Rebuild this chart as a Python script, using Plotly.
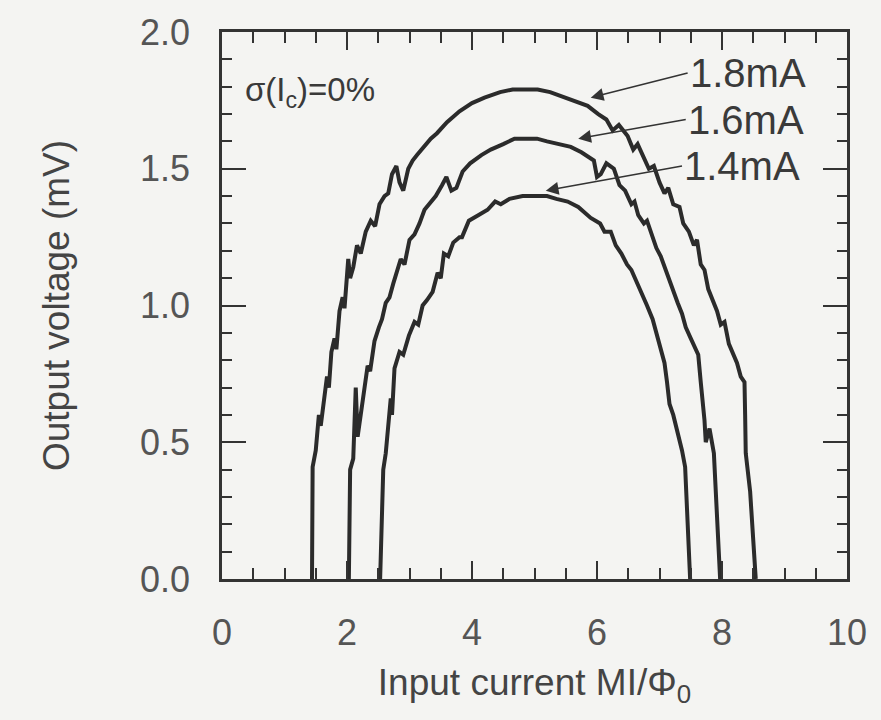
import plotly.graph_objects as go

# ---- data ----
x_18 = [1.44, 1.45, 1.50, 1.55, 1.58, 1.64, 1.68, 1.71, 1.75, 1.80, 1.83, 1.88, 1.93, 1.96, 2.02, 2.05,
        2.10, 2.16, 2.22, 2.30, 2.38, 2.45, 2.52, 2.60, 2.66, 2.72, 2.79, 2.84, 2.90, 2.98, 3.05, 3.12,
        3.22, 3.34, 3.44, 3.60, 3.80, 4.00, 4.20, 4.45, 4.65, 4.85, 5.05, 5.25, 5.49, 5.70, 5.85, 6.02,
        6.15, 6.25, 6.35, 6.49, 6.58, 6.65, 6.75, 6.83, 6.91, 7.00, 7.08, 7.14, 7.22, 7.32, 7.38, 7.47,
        7.55, 7.60, 7.66, 7.72, 7.78, 7.85, 7.92, 7.98, 8.04, 8.11, 8.18, 8.24, 8.30, 8.36, 8.37, 8.38,
        8.45, 8.50, 8.53, 8.54]
y_18 = [0.00, 0.41, 0.47, 0.60, 0.56, 0.66, 0.74, 0.70, 0.83, 0.88, 0.84, 0.98, 1.03, 0.99, 1.17, 1.10,
        1.14, 1.22, 1.19, 1.27, 1.31, 1.29, 1.37, 1.40, 1.41, 1.48, 1.51, 1.45, 1.42, 1.50, 1.53, 1.55,
        1.58, 1.61, 1.63, 1.67, 1.71, 1.74, 1.76, 1.78, 1.79, 1.79, 1.79, 1.78, 1.76, 1.74, 1.73, 1.70,
        1.68, 1.64, 1.66, 1.62, 1.57, 1.59, 1.54, 1.50, 1.51, 1.45, 1.41, 1.43, 1.37, 1.36, 1.30, 1.27,
        1.22, 1.24, 1.15, 1.13, 1.06, 1.02, 0.98, 0.93, 0.94, 0.86, 0.82, 0.79, 0.74, 0.72, 0.60, 0.46,
        0.32, 0.15, 0.03, 0.00]

x_16 = [2.03, 2.05, 2.10, 2.14, 2.17, 2.22, 2.28, 2.33, 2.37, 2.44, 2.51, 2.56, 2.62, 2.68, 2.74, 2.80,
        2.86, 2.92, 3.00, 3.08, 3.16, 3.24, 3.32, 3.42, 3.52, 3.59, 3.67, 3.75, 3.85, 3.97, 4.15, 4.30,
        4.50, 4.68, 4.85, 5.04, 5.20, 5.40, 5.58, 5.75, 5.95, 6.00, 6.06, 6.15, 6.27, 6.36, 6.45, 6.55,
        6.60, 6.66, 6.75, 6.80, 6.87, 6.95, 7.02, 7.08, 7.14, 7.20, 7.29, 7.36, 7.42, 7.50, 7.56, 7.62,
        7.66, 7.70, 7.72, 7.74, 7.80, 7.87, 7.92, 7.96, 7.97]
y_16 = [0.00, 0.40, 0.44, 0.70, 0.52, 0.60, 0.72, 0.78, 0.76, 0.87, 0.92, 0.95, 1.01, 1.03, 1.08, 1.13,
        1.17, 1.15, 1.24, 1.26, 1.30, 1.35, 1.37, 1.40, 1.44, 1.47, 1.42, 1.43, 1.49, 1.52, 1.55, 1.57,
        1.59, 1.61, 1.61, 1.61, 1.60, 1.59, 1.58, 1.56, 1.53, 1.47, 1.48, 1.52, 1.50, 1.44, 1.42, 1.37,
        1.38, 1.33, 1.30, 1.31, 1.26, 1.21, 1.18, 1.14, 1.11, 1.06, 1.01, 0.97, 0.92, 0.88, 0.85, 0.82,
        0.72, 0.64, 0.58, 0.50, 0.55, 0.46, 0.25, 0.03, 0.00]

x_14 = [2.53, 2.58, 2.62, 2.64, 2.70, 2.72, 2.76, 2.84, 2.90, 2.99, 3.08, 3.14, 3.21, 3.28, 3.37, 3.45,
        3.50, 3.55, 3.62, 3.70, 3.80, 3.84, 3.95, 4.10, 4.25, 4.37, 4.46, 4.60, 4.81, 4.99, 5.20, 5.35,
        5.53, 5.70, 5.90, 6.05, 6.12, 6.22, 6.30, 6.39, 6.48, 6.55, 6.65, 6.72, 6.80, 6.89, 6.95, 7.00,
        7.08, 7.12, 7.16, 7.22, 7.31, 7.36, 7.41, 7.45, 7.48, 7.49]
y_14 = [0.00, 0.40, 0.46, 0.51, 0.66, 0.60, 0.77, 0.83, 0.82, 0.89, 0.94, 0.93, 1.00, 1.02, 1.05, 1.12,
        1.10, 1.19, 1.18, 1.23, 1.25, 1.25, 1.31, 1.33, 1.35, 1.38, 1.37, 1.39, 1.40, 1.40, 1.40, 1.39,
        1.38, 1.36, 1.32, 1.30, 1.27, 1.27, 1.22, 1.19, 1.15, 1.13, 1.08, 1.04, 1.00, 0.95, 0.90, 0.85,
        0.79, 0.72, 0.64, 0.60, 0.52, 0.47, 0.41, 0.20, 0.02, 0.00]

series_names = ["1.8mA", "1.6mA", "1.4mA"]
series_x = [x_18, x_16, x_14]
series_y = [y_18, y_16, y_14]

# label positions (text left edge, = arrow tail) and arrow tips, in data units
label_x = [7.45, 7.42, 7.36]
label_y = [1.85, 1.68, 1.51]
arrow_tip_x = [5.90, 5.70, 5.18]
arrow_tip_y = [1.76, 1.61, 1.42]

x_ticks = [0, 2, 4, 6, 8, 10]
y_ticks = [0.0, 0.5, 1.0, 1.5, 2.0]

FONT = "Liberation Sans, Arial, sans-serif"
INK = "#2b2b2b"
BG = "#f4f4f2"

fig = go.Figure()
for name, xs, ys in zip(series_names, series_x, series_y):
    fig.add_trace(go.Scatter(x=xs, y=ys, mode="lines", name=name,
                             line=dict(color=INK, width=4), showlegend=False))

for i, name in enumerate(series_names):
    fig.add_annotation(x=arrow_tip_x[i], y=arrow_tip_y[i], ax=label_x[i], ay=label_y[i],
                       axref="x", ayref="y", xref="x", yref="y", text=name, showarrow=True,
                       xanchor="left", yanchor="middle",
                       arrowhead=2, arrowsize=1.6, arrowwidth=1.6, arrowcolor="#333333",
                       font=dict(family=FONT, size=40, color="#3a3a3a"))

fig.add_annotation(x=0.33, y=1.78, text="σ(I<sub>c</sub>)=0%", showarrow=False,
                   xanchor="left", yanchor="middle",
                   font=dict(family=FONT, size=33, color="#3a3a3a"))

axis_common = dict(showline=True, linewidth=2.5, linecolor="#333333", mirror="allticks",
                   ticks="inside", tickwidth=2, tickcolor="#333333", showgrid=False, zeroline=False,
                   tickfont=dict(family=FONT, size=36, color="#555555"))

fig.update_xaxes(range=[0, 10], tickvals=x_ticks, ticklen=18,
                 minor=dict(dtick=0.5, ticks="inside", ticklen=11, tickwidth=2, tickcolor="#333333", showgrid=False),
                 ticklabelstandoff=20,
                 title=dict(text="Input current MI/Φ<sub>0</sub>", standoff=18,
                            font=dict(family=FONT, size=37, color="#444444")),
                 **axis_common)
fig.update_yaxes(range=[0, 2], tickvals=y_ticks, tickformat=".1f", ticklen=24,
                 minor=dict(dtick=0.1, ticks="inside", ticklen=10, tickwidth=2, tickcolor="#333333", showgrid=False),
                 ticklabelstandoff=22,
                 title=dict(text="Output voltage (mV)", standoff=60,
                            font=dict(family=FONT, size=37, color="#444444")),
                 **axis_common)

fig.update_layout(width=881, height=720, margin=dict(l=222, r=34, t=32, b=141),
                  paper_bgcolor=BG, plot_bgcolor=BG)

fig.write_html("out.html")
